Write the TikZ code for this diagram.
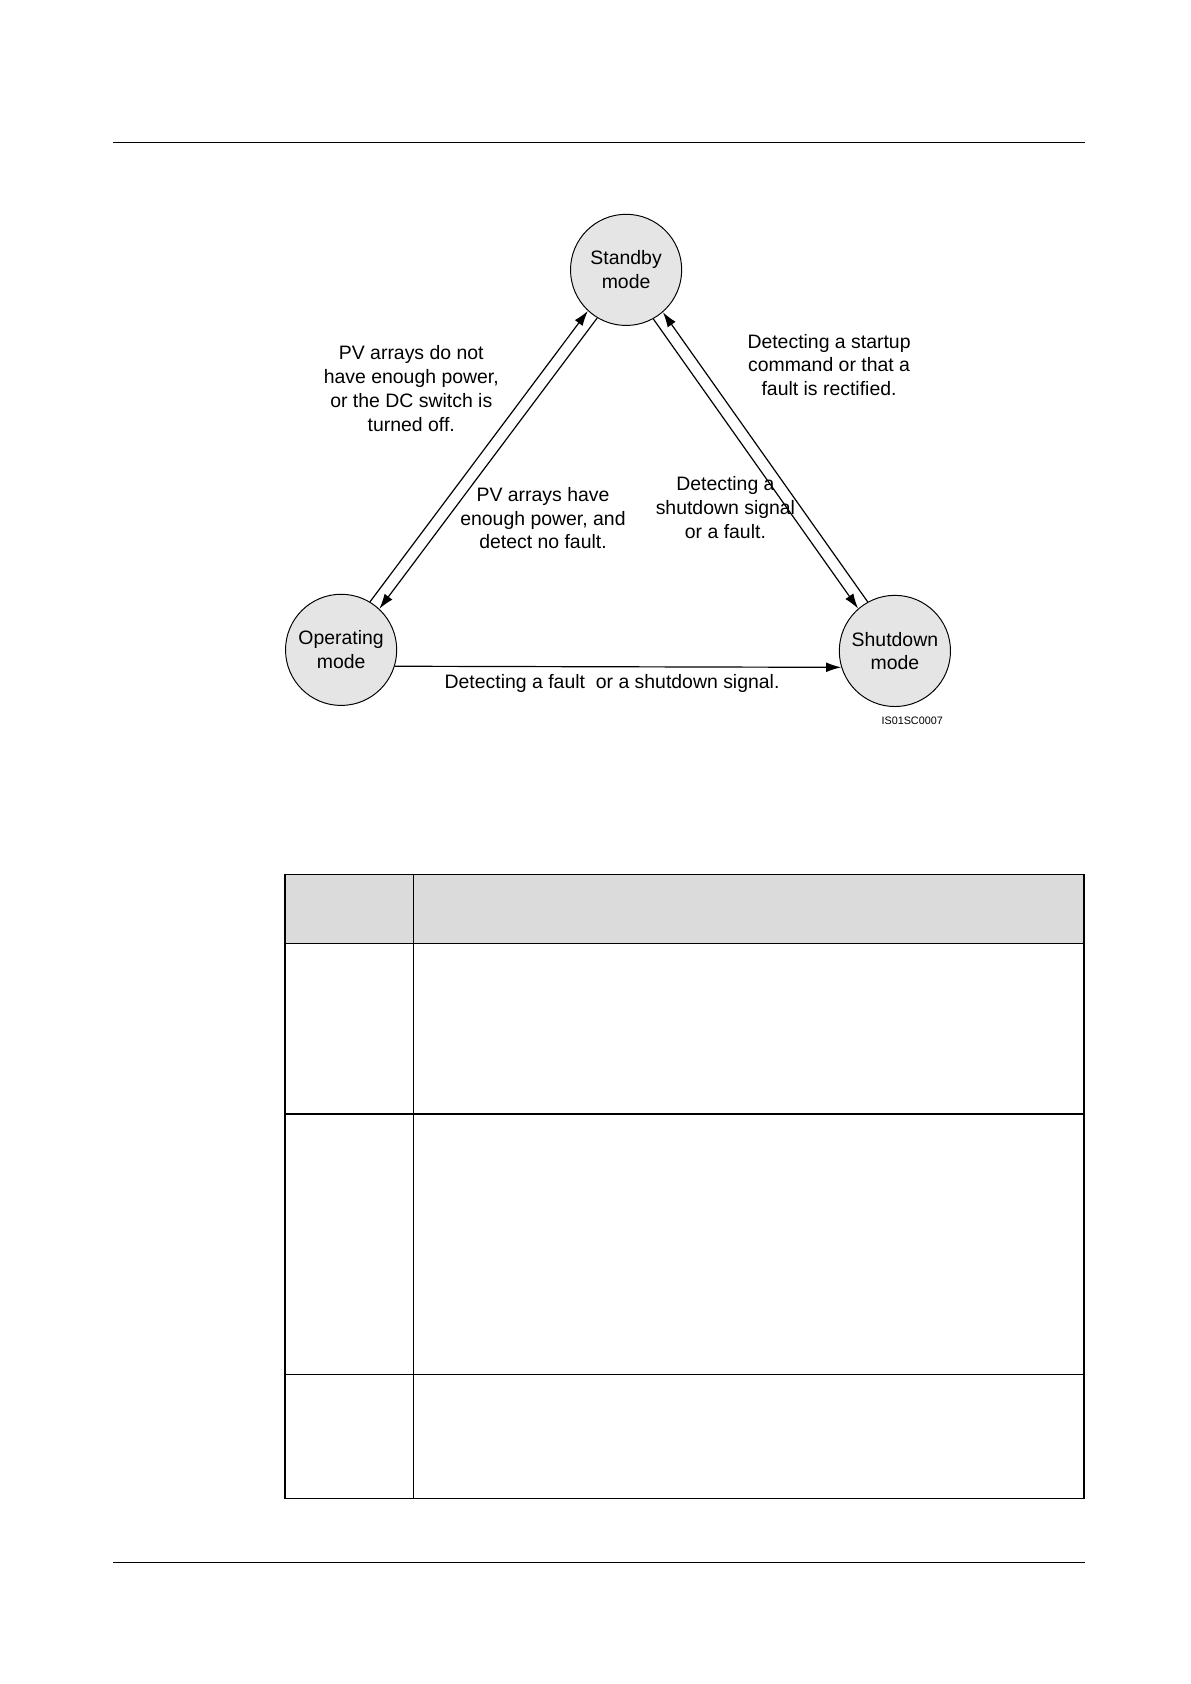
\documentclass[tikz,border=0pt]{standalone}
\usepackage{fontspec}
\setmainfont{Liberation Sans}
\usetikzlibrary{arrows.meta}
\begin{document}
\begin{tikzpicture}[x=1pt,y=-1pt,
  mode/.style={circle,draw,fill=black!10,line width=0.9pt,minimum size=103pt,inner sep=0pt,align=center,font=\fontsize{18}{22}\selectfont},
  lbl/.style={align=center,font=\fontsize{18}{22}\selectfont},
  arr/.style={line width=1.1pt,-{Latex[length=14pt,width=9pt]}},
  tbl/.style={line width=1.3pt}]
\useasboundingbox (0,0) rectangle (1103,1560);
\draw[line width=0.7pt] (105,132) -- (1005,132);
\draw[line width=0.7pt] (105,1447) -- (1005,1447);
\node[mode] (s) at (580,250) {Standby\\mode};
\node[mode] (o) at (316,602) {Operating\\mode};
\node[mode] (h) at (829,603) {Shutdown\\mode};
\draw[arr] (o.59) -- (s.227);
\draw[arr] (s.239) -- (o.47);
\draw[arr] (s.299) -- (h.131);
\draw[arr] (h.119) -- (s.311);
\draw[arr] (o.-17) -- (h.197);
\node[lbl] (l1) at (381,360) {PV arrays do not\\have enough power,\\or the DC switch is\\turned off.};
\node[lbl] (l2) at (503,480) {PV arrays have\\enough power, and\\detect no fault.};
\node[lbl] (l3) at (768,338) {Detecting a startup\\command or that a\\fault is rectified.};
\node[lbl] (l4) at (672,470) {Detecting a\\shutdown signal\\or a fault.};
\node[lbl] (l5) at (567,633) {Detecting a fault\ \ or a shutdown signal.};
\node[font=\fontsize{10}{12}\selectfont] (id) at (845,668) {IS01SC0007};
\fill[black!14] (264,810) rectangle (1004,874);
\draw[tbl] (264,810) rectangle (1004,1388);
\draw[tbl] (383,810) -- (383,1388);
\draw[tbl] (264,874) -- (1004,874);
\draw[tbl] (264,1032) -- (1004,1032);
\draw[tbl] (264,1273) -- (1004,1273);
\end{tikzpicture}
\end{document}
